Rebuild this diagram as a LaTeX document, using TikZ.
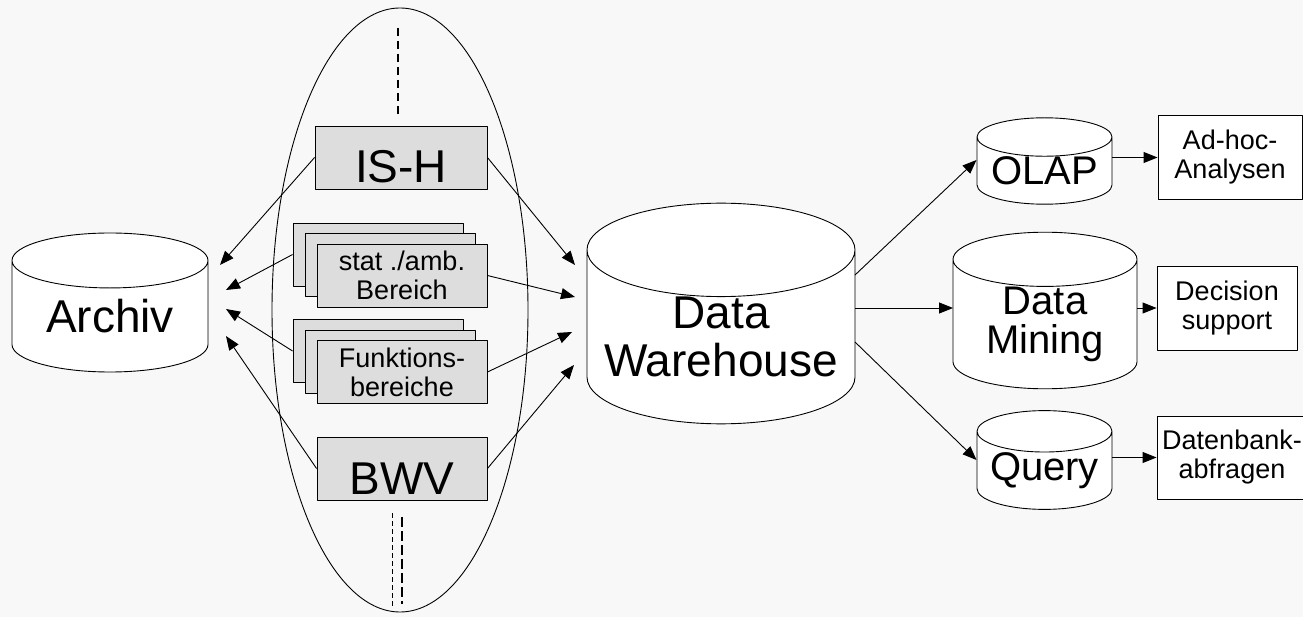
\documentclass[tikz,border=0pt]{standalone}
\usepackage{fontspec}
\setmainfont{Liberation Sans}
\usetikzlibrary{shapes.geometric,arrows.meta}
\definecolor{bgcol}{RGB}{248,248,248}
\definecolor{unitgray}{RGB}{221,221,221}
\tikzset{
  arr/.style={-{Triangle[length=14pt,width=11pt]},line width=.9pt},
  db/.style={cylinder,shape border rotate=90,draw,fill=white,line width=.9pt,
    anchor=shape center,align=center,inner sep=0pt},
  unit/.style={draw,fill=unitgray,line width=.9pt,minimum width=170pt,
    minimum height=63pt,inner sep=0pt,align=center},
  outbox/.style={draw,fill=white,line width=.9pt,minimum width=144pt,
    minimum height=84pt,inner sep=0pt,align=center}
}
\newcommand{\bigtxt}{\fontsize{46}{48}\selectfont}
\newcommand{\midtxt}{\fontsize{40}{39}\selectfont}
\begin{document}
\begin{tikzpicture}[x=1pt,y=-1pt,line join=round,font=\fontsize{27}{29}\selectfont]
\fill[bgcol] (0,0) rectangle (1303,617);
\useasboundingbox (0,0) rectangle (1303,617);

% Quellsysteme
\node[draw,ellipse,line width=.9pt,minimum width=256pt,minimum height=604pt] (grp) at (400,310) {};
\draw[line width=2pt,dash pattern=on 8pt off 5pt] (398,28) -- (398,115);
\draw[line width=.9pt,dash pattern=on 5pt off 3pt] (392,513) -- (392,607);
\draw[line width=2.5pt,dash pattern=on 10pt off 4pt] (402,517) -- (402,604);

\node[unit,minimum width=172pt,font=\bigtxt,text height=51pt,text depth=0pt] (ish) at (401,157.5) {IS-H};
\foreach \k/\dx/\dy in {A/0/0,B/12/10.5}{
  \node[unit] (stat\k) at (378+\dx,254.5+\dy) {};
  \node[unit] (funk\k) at (378+\dx,351+\dy) {};
}
\node[unit] (statC) at (402,275.5) {stat ./amb.\\Bereich};
\node[unit] (funkC) at (402,372) {Funktions-\\bereiche};
\node[unit,font=\bigtxt,text height=51pt,text depth=0pt] (bwv) at (402,468.5) {BWV};

% Datenbanken
\node[db,aspect=.43,minimum width=196pt,minimum height=139pt,font=\bigtxt] (archiv) at (110,302.5) {Archiv};
\node[db,aspect=.4,minimum width=268pt,minimum height=181pt,font=\bigtxt] (dw) at (721,313.5) {Data\\Warehouse};
\node[db,aspect=.36,minimum width=135pt,minimum height=84pt,font=\midtxt] (olap) at (1044.5,161) {OLAP};
\node[db,aspect=.46,minimum width=184pt,minimum height=145pt,font=\midtxt] (dm) at (1045,310.5) {Data\\Mining};
\node[db,aspect=.38,minimum width=135pt,minimum height=84pt,font=\midtxt] (query) at (1044.5,460) {Query};

% Auswertungen
\node[outbox] (adhoc) at (1230,157.5) {Ad-hoc-\\Analysen};
\node[outbox,minimum width=140pt] (decision) at (1227,308) {Decision\\support};
\node[outbox,minimum width=150pt,minimum height=83pt] (datenbank) at (1232,457.5) {Datenbank-\\abfragen};

% Pfeile
\foreach \n/\dx/\dy in {ish/110/-37.5,statA/116/-12.5,funkA/116/6.5,bwv/116/33.5}{
  \draw[arr] (\n.west) -- ([shift={(\dx,\dy)}]archiv.shape center);
}
\foreach \n/\dx/\dy in {ish/-146/-48.5,statC/-146/-16.5,funkC/-149/18.5,bwv/-147/51.5}{
  \draw[arr] (\n.east) -- ([shift={(\dx,\dy)}]dw.shape center);
}
\draw[arr] ([shift={(134,-38.5)}]dw.shape center) -- ([shift={(-68,-1)}]olap.shape center);
\draw[arr] ([shift={(134,-5.5)}]dw.shape center) -- ([shift={(-92,-2.5)}]dm.shape center);
\draw[arr] ([shift={(134,28.5)}]dw.shape center) -- ([shift={(-68,0)}]query.shape center);
\draw[arr] (adhoc.west -| olap.east) -- (adhoc.west);
\draw[arr] (decision.west -| dm.east) -- (decision.west);
\draw[arr] (datenbank.west -| query.east) -- (datenbank.west);
\end{tikzpicture}
\end{document}
